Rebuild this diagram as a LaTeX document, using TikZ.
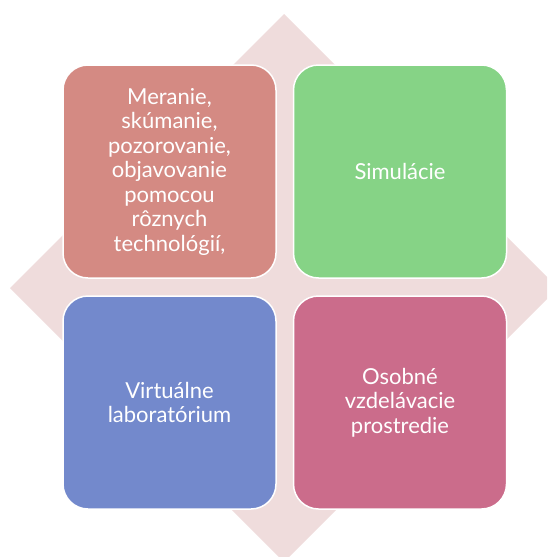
\documentclass[tikz,border=0pt]{standalone}
\usepackage{fontspec}
\setmainfont{Lato}
\usepackage{xcolor}

\definecolor{backpink}{HTML}{EFDCDC}
\definecolor{salmon}{HTML}{D48A83}
\definecolor{leafgreen}{HTML}{86D386}
\definecolor{softblue}{HTML}{7389CC}
\definecolor{rosepink}{HTML}{CB6C8B}

\begin{document}
\begin{tikzpicture}[x=1pt,y=-1pt,
    box/.style={rectangle,rounded corners=25pt,draw=white,line width=1.5pt,
      minimum width=213pt,minimum height=213pt,inner sep=0pt,
      text=white,align=center,text width=200pt,
      font=\fontsize{22}{24.5}\selectfont}]
            \useasboundingbox (0,0) rectangle (547,557);
            \clip (0,0) rectangle (547,557);

            \fill[backpink] (284,14) -- (558,288) -- (284,562) -- (10,288) -- cycle;

            \node (meranie) at (169.5,171.5) [box,fill=salmon] {Meranie,\\ skúmanie,\\ pozorovanie,\\ objavovanie\\ pomocou\\ rôznych\\ technológií,};
            \node (simulacie) at (400,171.5) [box,fill=leafgreen] {Simulácie};
            \node (labak) at (169.5,402.5) [box,fill=softblue] {Virtuálne\\ laboratórium};
            \node (osobne) at (400,402.5) [box,fill=rosepink] {Osobné\\ vzdelávacie\\ prostredie};

        \end{tikzpicture}
\end{document}
